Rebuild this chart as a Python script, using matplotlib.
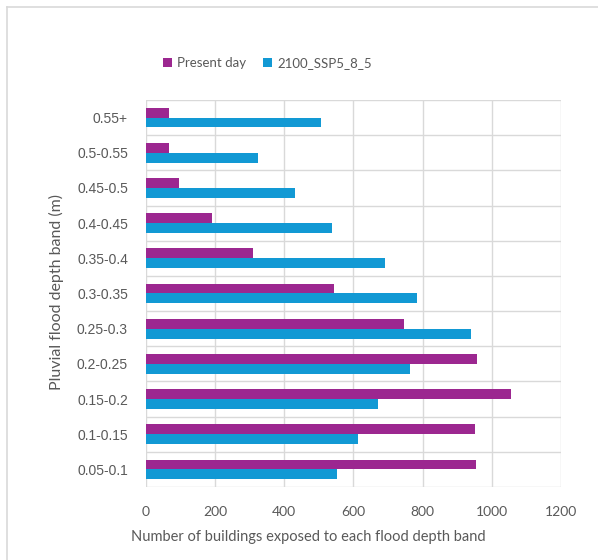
import matplotlib
matplotlib.use("Agg")
import matplotlib.pyplot as plt
import numpy as np

bands = ["0.05-0.1", "0.1-0.15", "0.15-0.2", "0.2-0.25", "0.25-0.3", "0.3-0.35",
         "0.35-0.4", "0.4-0.45", "0.45-0.5", "0.5-0.55", "0.55+"]
present_day = [954, 952, 1055, 956, 747, 545, 310, 191, 96, 67, 67]
ssp5_2100 = [553, 613, 671, 763, 939, 783, 692, 538, 432, 324, 506]
x_ticks = [0, 200, 400, 600, 800, 1000, 1200]

PURPLE = "#9c2790"
BLUE = "#1299d4"
GRID = "#d9d9d9"
TEXT = "#595959"

fig = plt.figure(figsize=(5.98, 5.6), dpi=100)
ax = fig.add_axes([0.2441, 0.1304, 0.6940, 0.6910])

y = np.arange(len(bands))
h = 0.28
ax.barh(y + h / 2, present_day, height=h, color=PURPLE, label="Present day", zorder=3)
ax.barh(y - h / 2, ssp5_2100, height=h, color=BLUE, label="2100_SSP5_8_5", zorder=3)

ax.set_xlim(0, 1200)
ax.set_ylim(-0.5, len(bands) - 0.5)
ax.set_xticks(x_ticks)
ax.set_xticklabels([str(v) for v in x_ticks], fontfamily="Lato", fontsize=10, color=TEXT)
ax.set_yticks(y)
ax.set_yticklabels(bands, fontfamily="Liberation Sans", fontsize=10, color=TEXT)
ax.tick_params(axis="y", length=0, pad=13)
ax.tick_params(axis="x", length=0, pad=14)

# category boundaries as horizontal grid lines, value steps as vertical ones
for b in np.arange(-0.5, len(bands), 1.0):
    ax.axhline(b, color=GRID, lw=1, zorder=1)
for v in x_ticks:
    ax.axvline(v, color=GRID, lw=1, zorder=1)
for s in ax.spines.values():
    s.set_visible(False)

fig.text(0.515, 0.041, "Number of buildings exposed to each flood depth band",
         family="Lato", fontsize=10.5, color=TEXT, ha="center", va="center")
fig.text(0.094, 0.478, "Pluvial flood depth band (m)", family="Lato", fontsize=11.5,
         color=TEXT, ha="center", va="center", rotation=90)

leg = fig.legend(loc="center", bbox_to_anchor=(0.447, 0.887), ncol=2, frameon=False,
                 prop={"family": "Lato", "size": 9.5}, handlelength=0.7, handleheight=0.7,
                 handletextpad=0.35, columnspacing=1.3)
for t in leg.get_texts():
    t.set_color(TEXT)

# chart area border
fig.add_artist(plt.Line2D([0.011, 0.011], [0, 0.9875], color=GRID, lw=1.2))
fig.add_artist(plt.Line2D([0.011, 1], [0.9875, 0.9875], color=GRID, lw=1.2))

fig.savefig("out.png", dpi=100)
